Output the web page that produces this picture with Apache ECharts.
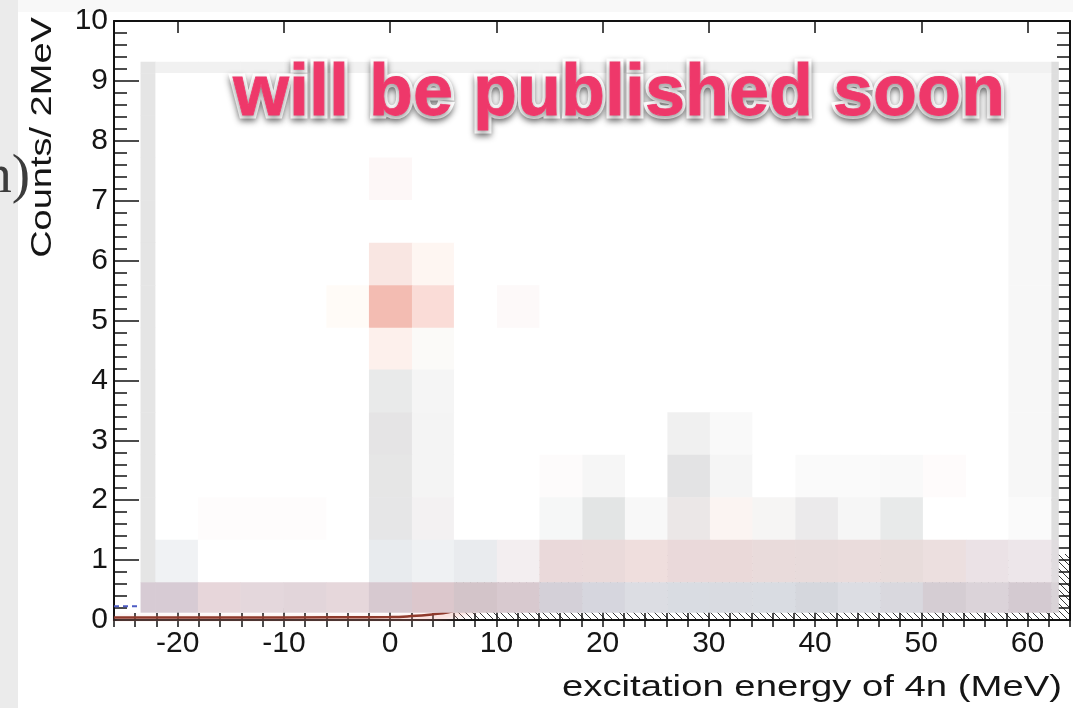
<!DOCTYPE html>
<html>
<head>
<meta charset="utf-8">
<script src="https://cdn.jsdelivr.net/npm/echarts@6/dist/echarts.min.js"></script>
<style>
  html, body { margin: 0; padding: 0; background: #ffffff; }
  #chart { width: 1073px; height: 708px; }
</style>
</head>
<body>
<div id="chart"></div>
<script>
// Axis tick labels
const xTickValues = [-20, -10, 0, 10, 20, 30, 40, 50, 60];   // MeV
const yTickValues = [0, 1, 2, 3, 4, 5, 6, 7, 8, 9, 10];       // counts / 2 MeV

// Mosaic blocks covering the spectrum: edges along energy (MeV) and along counts (top band first)
const blockEdgesMeV = [-23.5, -22.1, -18.1, -14.1, -10.05, -6.0, -2.0, 2.05, 6.0, 10.05, 14.05,
  18.1, 22.1, 26.1, 30.1, 34.1, 38.15, 42.15, 46.15, 50.15, 54.2, 58.2, 62.25, 62.9];
const blockEdgesCounts = [9.32, 9.13, 8.43, 7.72, 7.01, 6.30, 5.59, 4.88, 4.18, 3.47, 2.76, 2.05, 1.34, 0.63, 0.13];

// Tone of every block, one line per band ('.' = white)
const blockTones = [
  'e5e5e5 f1f1f1 f1f1f1 f1f1f1 f1f1f1 f1f1f1 f1f1f1 f1f1f1 f1f1f1 f1f1f1 f1f1f1 f1f1f1 f1f1f1 f1f1f1 f1f1f1 f1f1f1 f1f1f1 f1f1f1 f1f1f1 f1f1f1 f1f1f1 f1f1f1 dedede',
  'e5e5e5 . . . . . . . . . . . . . . . . . . . . f7f7f7 dedede',
  'e5e5e5 . . . . . . . . . . . . . . . . . . . . f7f7f7 dedede',
  'e5e5e5 . . . . . fdf7f7 . . . . . . . . . . . . . . f7f7f7 dedede',
  'e5e5e5 . . . . . . . . . . . . . . . . . . . . f7f7f7 dedede',
  'e5e5e5 . . . . . f9e6e2 fef6f2 . . . . . . . . . . . . . f7f7f7 dedede',
  'e5e5e5 . . . . fffbf7 f3bcb2 fadcd7 . fdf9f9 . . . . . . . . . . . f7f7f7 dedede',
  'e5e5e5 . . . . . fdf0ec fbfaf8 . . . . . . . . . . . . . f7f7f7 dedede',
  'e5e5e5 . . . . . e9eaea f5f5f5 . . . . . . . . . . . . . f7f7f7 dedede',
  'e5e5e5 . . . . . e5e4e5 f4f4f4 . . . . . f0f0f0 f9f9f9 . . . . . . f7f7f7 dedede',
  'e5e5e5 . . . . . e6e6e6 f4f4f4 . . fdfbfb f6f6f6 . e3e3e4 f5f5f5 . fafafa fafafa f9f9f9 fefbfb . f7f7f7 dedede',
  'e5e5e5 . fefcfc fefcfc fefcfc . e6e6e7 f3f1f2 . . f6f7f7 e3e5e5 f8f8f8 ebe7e7 fbf4f2 f6f5f4 ebeaeb f6f6f6 e8eaea . . fafafa dedede',
  'e5e5e5 f0f2f4 . . . . e8ebee eff1f3 e9ebee f3eef0 ead9da eadada efdedd ead9da ead9d9 e9dbdb e8dbdb eadcdc e8dcdb ecdfdf ebe2e6 ede6ea e0dcdf',
  'd7cbd4 d7cbd4 e7d6da e4d7dc e2d5da e6d7db d7c9d0 dcc7cc d3c4c9 d8c9cf d4d0d8 d6d6de dcdde3 d9dce2 d9dbe1 d9dce2 d5d7dd dcdde3 d9d8de d5cdd3 dbd3d9 d4cad1 d9d3d7'
];

// Fitted curve lying along zero counts
const curveMeV    = [-26, -15, -5, 0, 2, 4, 5.5, 7, 9];
const curveCounts = [0.04, 0.04, 0.045, 0.05, 0.065, 0.095, 0.13, 0.2, 0.3];
// Dashed component near the left edge
const dashedMeV    = [-26, -21];
const dashedCounts = [0.23, 0.23];
// Hatched histogram beneath the spectrum
const hatchMeV    = [6, 64];
const hatchCounts = [1.1, 1.1];

// ---- build mosaic records from the edges and tones ----
const toneList = [];
const blocks = [];
blockTones.forEach((line, r) => {
  line.trim().split(/\s+/).forEach((t, c) => {
    const tone = t === '.' ? '#ffffff' : '#' + t;
    blocks.push([blockEdgesMeV[c], blockEdgesMeV[c + 1],
                 blockEdgesCounts[r + 1], blockEdgesCounts[r], toneList.length]);
    toneList.push(tone);
  });
});

function hatchImage() {
  const cv = document.createElement('canvas');
  cv.width = 7; cv.height = 7;
  const g = cv.getContext('2d');
  g.strokeStyle = '#3a3a3a';
  g.lineWidth = 1;
  g.beginPath(); g.moveTo(-1, -1); g.lineTo(8, 8); g.stroke();
  return cv;
}

const ink = '#121212';
const fontFam = 'Liberation Sans, Arial, Helvetica, sans-serif';
const tickLine = { color: ink, width: 1.5 };
const xBase = { type: 'value', min: -26, max: 64, splitLine: { show: false }, z: 2 };
const yBase = { type: 'value', min: 0, max: 10, interval: 1, splitLine: { show: false }, z: 2 };
const banner = 'will be published soon';

const chart = echarts.init(document.getElementById('chart'), null, { renderer: 'canvas' });
chart.setOption({
  animation: false,
  backgroundColor: '#ffffff',
  grid: { left: 114, right: 3, top: 21, bottom: 88, containLabel: false },
  xAxis: [
    Object.assign({}, xBase, {
      position: 'bottom',
      axisLine: { show: true, onZero: false, lineStyle: { color: ink, width: 2 } },
      axisTick: { show: true, inside: true, length: 12, customValues: xTickValues, lineStyle: tickLine },
      axisLabel: { show: true, customValues: xTickValues, margin: 9, fontSize: 30,
                   fontFamily: fontFam, color: '#151515' }
    }),
    Object.assign({}, xBase, {
      position: 'bottom', interval: 2,
      axisLine: { show: false },
      axisTick: { show: true, inside: true, length: 7, lineStyle: tickLine },
      axisLabel: { show: false }
    }),
    Object.assign({}, xBase, {
      position: 'top',
      axisLine: { show: true, onZero: false, lineStyle: { color: ink, width: 2 } },
      axisTick: { show: true, inside: true, length: 12, customValues: xTickValues, lineStyle: tickLine },
      axisLabel: { show: false }
    }),
    Object.assign({}, xBase, {
      position: 'top', interval: 2,
      axisLine: { show: false },
      axisTick: { show: true, inside: true, length: 7, lineStyle: tickLine },
      axisLabel: { show: false }
    })
  ],
  yAxis: [
    Object.assign({}, yBase, {
      position: 'left',
      axisLine: { show: true, onZero: false, lineStyle: { color: ink, width: 2 } },
      axisTick: { show: true, inside: true, length: 25, lineStyle: tickLine },
      minorTick: { show: true, splitNumber: 5, length: 13, lineStyle: tickLine },
      axisLabel: { show: true, margin: 6, fontSize: 30, fontFamily: fontFam, color: '#151515',
                   formatter: v => (yTickValues.indexOf(v) >= 0 ? String(v) : '') }
    }),
    Object.assign({}, yBase, {
      position: 'right',
      axisLine: { show: true, onZero: false, lineStyle: { color: ink, width: 2 } },
      axisTick: { show: true, inside: true, length: 25, lineStyle: tickLine },
      minorTick: { show: true, splitNumber: 5, length: 13, lineStyle: tickLine },
      axisLabel: { show: false }
    })
  ],
  series: [
    {
      name: 'hatched', type: 'line', xAxisIndex: 0, yAxisIndex: 0, z: 1,
      data: hatchMeV.map((e, i) => [e, hatchCounts[i]]),
      step: 'end', symbol: 'none',
      lineStyle: { width: 0, opacity: 0 },
      areaStyle: { color: { image: hatchImage(), repeat: 'repeat' }, opacity: 1 }
    },
    {
      name: 'dashed', type: 'line', xAxisIndex: 0, yAxisIndex: 0, z: 2.5,
      data: dashedMeV.map((e, i) => [e, dashedCounts[i]]),
      symbol: 'none',
      lineStyle: { color: '#4e5cc4', width: 2, type: [5, 4] }
    },
    {
      name: 'fit', type: 'line', xAxisIndex: 0, yAxisIndex: 0, z: 2.5,
      data: curveMeV.map((e, i) => [e, curveCounts[i]]),
      smooth: true, symbol: 'none',
      lineStyle: { color: '#8f3a2c', width: 2.5,
                   shadowColor: 'rgba(240,150,140,0.9)', shadowBlur: 6, shadowOffsetY: 3 }
    },
    {
      name: 'mosaic', type: 'custom', xAxisIndex: 0, yAxisIndex: 0, z: 3,
      data: blocks,
      encode: { x: [0, 1], y: [2, 3] },
      renderItem: function (params, api) {
        const tl = api.coord([api.value(0), api.value(3)]);
        const br = api.coord([api.value(1), api.value(2)]);
        const tone = toneList[api.value(4)];
        return {
          type: 'rect',
          shape: { x: tl[0], y: tl[1], width: br[0] - tl[0] + 0.5, height: br[1] - tl[1] + 0.5 },
          style: { fill: tone }
        };
      }
    }
  ],
  graphic: [
    { type: 'rect', z: 0, shape: { x: 0, y: 0, width: 18, height: 708 }, style: { fill: '#ebebeb' } },
    { type: 'rect', z: 0, shape: { x: 18, y: 0, width: 1055, height: 12 }, style: { fill: '#f8f8f8' } },
    { type: 'text', z: 1, x: 30, y: 178,
      style: { text: 'n)', fontFamily: 'Liberation Serif, DejaVu Serif, serif', fontSize: 55,
               fill: '#3c3c3c', align: 'right', verticalAlign: 'middle' } },
    { type: 'text', z: 1, x: 43, y: 137.5, rotation: Math.PI / 2, scaleX: 1.31,
      style: { text: 'Counts/ 2MeV', fontFamily: fontFam, fontSize: 29, fill: '#151515',
               align: 'center', verticalAlign: 'middle' } },
    { type: 'text', z: 1, x: 1062, y: 688, scaleX: 1.32,
      style: { text: 'excitation energy of 4n (MeV)', fontFamily: fontFam, fontSize: 29, fill: '#151515',
               align: 'right', verticalAlign: 'middle' } },
    // white rim with a soft drop shadow
    { type: 'text', z: 100, x: 233, y: 95,
      style: { text: banner, fontFamily: fontFam, fontWeight: 'bold', fontSize: 72,
               fill: '#ffffff', stroke: '#ffffff', lineWidth: 7,
               textShadowColor: 'rgba(0,0,0,0.45)', textShadowBlur: 6, textShadowOffsetY: 3,
               align: 'left', verticalAlign: 'middle' } },
    { type: 'text', z: 101, x: 233, y: 95,
      style: { text: banner, fontFamily: fontFam, fontWeight: 'bold', fontSize: 72,
               fill: '#ee386a', stroke: '#ee386a', lineWidth: 0.8,
               align: 'left', verticalAlign: 'middle' } }
  ]
});
</script>
</body>
</html>
